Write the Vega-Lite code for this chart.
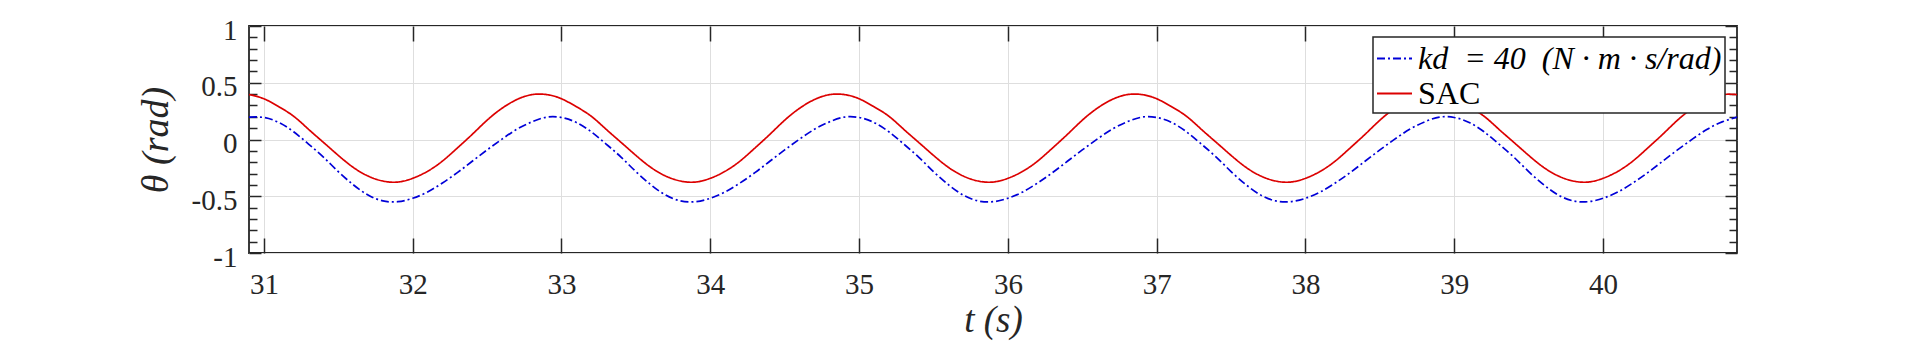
{
  "$schema": "https://vega.github.io/schema/vega-lite/v6.json",
  "width": 1488,
  "height": 227,
  "autosize": {"type": "none"},
  "padding": {"left": 249, "top": 26, "right": 183, "bottom": 94},
  "background": "white",
  "data": {"values": [
    {"t":30.9,"kd":0.197,"SAC":0.396},{"t":31,"kd":0.194,"SAC":0.359},{"t":31.1,"kd":0.15,"SAC":0.289},{"t":31.2,"kd":0.068,"SAC":0.205},{"t":31.3,"kd":-0.04,"SAC":0.09},{"t":31.4,"kd":-0.155,"SAC":-0.025},{"t":31.5,"kd":-0.283,"SAC":-0.14},{"t":31.6,"kd":-0.398,"SAC":-0.245},{"t":31.7,"kd":-0.49,"SAC":-0.322},{"t":31.8,"kd":-0.541,"SAC":-0.366},{"t":31.9,"kd":-0.548,"SAC":-0.375},{"t":32,"kd":-0.518,"SAC":-0.342},{"t":32.1,"kd":-0.462,"SAC":-0.28},{"t":32.2,"kd":-0.383,"SAC":-0.19},{"t":32.3,"kd":-0.292,"SAC":-0.075},{"t":32.4,"kd":-0.192,"SAC":0.045},{"t":32.5,"kd":-0.092,"SAC":0.17},{"t":32.6,"kd":0.003,"SAC":0.275},{"t":32.7,"kd":0.09,"SAC":0.352},{"t":32.8,"kd":0.155,"SAC":0.395},
    {"t":32.9,"kd":0.197,"SAC":0.396},{"t":33,"kd":0.194,"SAC":0.359},{"t":33.1,"kd":0.15,"SAC":0.289},{"t":33.2,"kd":0.068,"SAC":0.205},{"t":33.3,"kd":-0.04,"SAC":0.09},{"t":33.4,"kd":-0.155,"SAC":-0.025},{"t":33.5,"kd":-0.283,"SAC":-0.14},{"t":33.6,"kd":-0.398,"SAC":-0.245},{"t":33.7,"kd":-0.49,"SAC":-0.322},{"t":33.8,"kd":-0.541,"SAC":-0.366},{"t":33.9,"kd":-0.548,"SAC":-0.375},{"t":34,"kd":-0.518,"SAC":-0.342},{"t":34.1,"kd":-0.462,"SAC":-0.28},{"t":34.2,"kd":-0.383,"SAC":-0.19},{"t":34.3,"kd":-0.292,"SAC":-0.075},{"t":34.4,"kd":-0.192,"SAC":0.045},{"t":34.5,"kd":-0.092,"SAC":0.17},{"t":34.6,"kd":0.003,"SAC":0.275},{"t":34.7,"kd":0.09,"SAC":0.352},{"t":34.8,"kd":0.155,"SAC":0.395},
    {"t":34.9,"kd":0.197,"SAC":0.396},{"t":35,"kd":0.194,"SAC":0.359},{"t":35.1,"kd":0.15,"SAC":0.289},{"t":35.2,"kd":0.068,"SAC":0.205},{"t":35.3,"kd":-0.04,"SAC":0.09},{"t":35.4,"kd":-0.155,"SAC":-0.025},{"t":35.5,"kd":-0.283,"SAC":-0.14},{"t":35.6,"kd":-0.398,"SAC":-0.245},{"t":35.7,"kd":-0.49,"SAC":-0.322},{"t":35.8,"kd":-0.541,"SAC":-0.366},{"t":35.9,"kd":-0.548,"SAC":-0.375},{"t":36,"kd":-0.518,"SAC":-0.342},{"t":36.1,"kd":-0.462,"SAC":-0.28},{"t":36.2,"kd":-0.383,"SAC":-0.19},{"t":36.3,"kd":-0.292,"SAC":-0.075},{"t":36.4,"kd":-0.192,"SAC":0.045},{"t":36.5,"kd":-0.092,"SAC":0.17},{"t":36.6,"kd":0.003,"SAC":0.275},{"t":36.7,"kd":0.09,"SAC":0.352},{"t":36.8,"kd":0.155,"SAC":0.395},
    {"t":36.9,"kd":0.197,"SAC":0.396},{"t":37,"kd":0.194,"SAC":0.359},{"t":37.1,"kd":0.15,"SAC":0.289},{"t":37.2,"kd":0.068,"SAC":0.205},{"t":37.3,"kd":-0.04,"SAC":0.09},{"t":37.4,"kd":-0.155,"SAC":-0.025},{"t":37.5,"kd":-0.283,"SAC":-0.14},{"t":37.6,"kd":-0.398,"SAC":-0.245},{"t":37.7,"kd":-0.49,"SAC":-0.322},{"t":37.8,"kd":-0.541,"SAC":-0.366},{"t":37.9,"kd":-0.548,"SAC":-0.375},{"t":38,"kd":-0.518,"SAC":-0.342},{"t":38.1,"kd":-0.462,"SAC":-0.28},{"t":38.2,"kd":-0.383,"SAC":-0.19},{"t":38.3,"kd":-0.292,"SAC":-0.075},{"t":38.4,"kd":-0.192,"SAC":0.045},{"t":38.5,"kd":-0.092,"SAC":0.17},{"t":38.6,"kd":0.003,"SAC":0.275},{"t":38.7,"kd":0.09,"SAC":0.352},{"t":38.8,"kd":0.155,"SAC":0.395},
    {"t":38.9,"kd":0.197,"SAC":0.396},{"t":39,"kd":0.194,"SAC":0.359},{"t":39.1,"kd":0.15,"SAC":0.289},{"t":39.2,"kd":0.068,"SAC":0.205},{"t":39.3,"kd":-0.04,"SAC":0.09},{"t":39.4,"kd":-0.155,"SAC":-0.025},{"t":39.5,"kd":-0.283,"SAC":-0.14},{"t":39.6,"kd":-0.398,"SAC":-0.245},{"t":39.7,"kd":-0.49,"SAC":-0.322},{"t":39.8,"kd":-0.541,"SAC":-0.366},{"t":39.9,"kd":-0.548,"SAC":-0.375},{"t":40,"kd":-0.518,"SAC":-0.342},{"t":40.1,"kd":-0.462,"SAC":-0.28},{"t":40.2,"kd":-0.383,"SAC":-0.19},{"t":40.3,"kd":-0.292,"SAC":-0.075},{"t":40.4,"kd":-0.192,"SAC":0.045},{"t":40.5,"kd":-0.092,"SAC":0.17},{"t":40.6,"kd":0.003,"SAC":0.275},{"t":40.7,"kd":0.09,"SAC":0.352},{"t":40.8,"kd":0.155,"SAC":0.395},
    {"t":40.9,"kd":0.197,"SAC":0.396}
  ]},
  "transform": [{"fold": ["kd", "SAC"], "as": ["series", "theta"]}],
  "config": {
    "view": {"stroke": "#262626", "strokeWidth": 1.8},
    "axis": {
      "domain": false,
      "tickColor": "#262626",
      "tickWidth": 1.5,
      "gridColor": "#dedede",
      "gridWidth": 1
    },
    "legend": {
      "strokeColor": "#262626",
      "strokeWidth": 1.5,
      "fillColor": "white",
      "padding": 3,
      "labelFont": "Liberation Serif",
      "labelFontSize": 32,
      "labelColor": "#000000",
      "labelLimit": 0,
      "labelOffset": 5,
      "symbolType": "stroke",
      "symbolSize": 1225,
      "symbolStrokeWidth": 2,
      "rowPadding": 0
    }
  },
  "resolve": {"axis": {"x": "independent", "y": "independent"}},
  "layer": [
    {
      "mark": {"type": "line", "interpolate": "natural", "strokeWidth": 1.7},
      "encoding": {
        "x": {"field": "t", "type": "quantitative", "scale": {"domain": [30.9, 40.9], "nice": false, "zero": false},
          "axis": {"orient": "bottom", "values": [31,32,33,34,35,36,37,38,39,40], "ticks": false, "tickSize": 0, "grid": true, "labelPadding": 17, "labelFlush": false,
            "labelFont": "Liberation Serif", "labelFontSize": 29, "labelColor": "#262626",
            "title": "t  (s)", "titlePadding": 3, "titleFont": "Liberation Serif", "titleFontStyle": "italic", "titleFontWeight": "normal", "titleFontSize": 37, "titleColor": "#262626"}},
        "y": {"field": "theta", "type": "quantitative", "scale": {"domain": [-1, 1], "nice": false, "zero": false},
          "axis": {"orient": "left", "values": [-1,-0.5,0,0.5,1], "ticks": false, "tickSize": 0, "grid": true, "labelPadding": 12, "labelOffset": 4, "labelExpr": "datum.value + ''",
            "labelFont": "Liberation Serif", "labelFontSize": 29, "labelColor": "#262626",
            "title": "θ  (rad)", "titlePadding": 16, "titleFont": "Liberation Serif", "titleFontStyle": "italic", "titleFontWeight": "normal", "titleFontSize": 38, "titleColor": "#262626"}},
        "color": {"field": "series", "type": "nominal", "scale": {"domain": ["kd", "SAC"], "range": ["#0000d8", "#dc0000"]},
          "legend": {"orient": "none", "legendX": 1124, "legendY": 11, "title": null, "labelExpr": "datum.value === 'kd' ? 'kd\u00a0 = 40\u00a0 (N · m · s/rad)' : 'SAC'",
            "encode": {"labels": {"update": {"fontStyle": {"signal": "datum.value === 'kd' ? 'italic' : 'normal'"}}}}}},
        "strokeDash": {"field": "series", "type": "nominal", "scale": {"domain": ["kd", "SAC"], "range": [[8, 3, 2, 3], [1, 0]]},
          "legend": {"orient": "none", "legendX": 1124, "legendY": 11, "title": null, "labelExpr": "datum.value === 'kd' ? 'kd\u00a0 = 40\u00a0 (N · m · s/rad)' : 'SAC'",
            "encode": {"labels": {"update": {"fontStyle": {"signal": "datum.value === 'kd' ? 'italic' : 'normal'"}}}}}}
      }
    },
    {
      "mark": {"type": "line", "opacity": 0},
      "encoding": {
        "x": {"field": "t", "type": "quantitative", "scale": {"domain": [30.9, 40.9], "nice": false, "zero": false},
          "axis": {"orient": "bottom", "values": [31,32,33,34,35,36,37,38,39,40], "labels": false, "grid": false, "tickSize": -15, "title": null}},
        "y": {"field": "theta", "type": "quantitative", "scale": {"domain": [-1, 1], "nice": false, "zero": false},
          "axis": {"orient": "left", "values": [-1,-0.5,0,0.5,1], "labels": false, "grid": false, "tickSize": -12, "title": null}}
      }
    },
    {
      "mark": {"type": "line", "opacity": 0},
      "encoding": {
        "x": {"field": "t", "type": "quantitative", "scale": {"domain": [30.9, 40.9], "nice": false, "zero": false},
          "axis": {"orient": "top", "values": [31,32,33,34,35,36,37,38,39,40], "labels": false, "grid": false, "tickSize": -15, "title": null}},
        "y": {"field": "theta", "type": "quantitative", "scale": {"domain": [-1, 1], "nice": false, "zero": false},
          "axis": {"orient": "right", "values": [-1,-0.5,0,0.5,1], "labels": false, "grid": false, "tickSize": -12, "title": null}}
      }
    },
    {
      "mark": {"type": "line", "opacity": 0},
      "encoding": {
        "x": {"field": "t", "type": "quantitative", "scale": {"domain": [30.9, 40.9], "nice": false, "zero": false}, "axis": null},
        "y": {"field": "theta", "type": "quantitative", "scale": {"domain": [-1, 1], "nice": false, "zero": false},
          "axis": {"orient": "left", "values": [-0.9,-0.8,-0.7,-0.6,-0.4,-0.3,-0.2,-0.1,0.1,0.2,0.3,0.4,0.6,0.7,0.8,0.9], "labels": false, "grid": false, "tickSize": -8, "title": null}}
      }
    },
    {
      "mark": {"type": "line", "opacity": 0},
      "encoding": {
        "x": {"field": "t", "type": "quantitative", "scale": {"domain": [30.9, 40.9], "nice": false, "zero": false}, "axis": null},
        "y": {"field": "theta", "type": "quantitative", "scale": {"domain": [-1, 1], "nice": false, "zero": false},
          "axis": {"orient": "right", "values": [-0.9,-0.8,-0.7,-0.6,-0.4,-0.3,-0.2,-0.1,0.1,0.2,0.3,0.4,0.6,0.7,0.8,0.9], "labels": false, "grid": false, "tickSize": -8, "title": null}}
      }
    }
  ]
}
